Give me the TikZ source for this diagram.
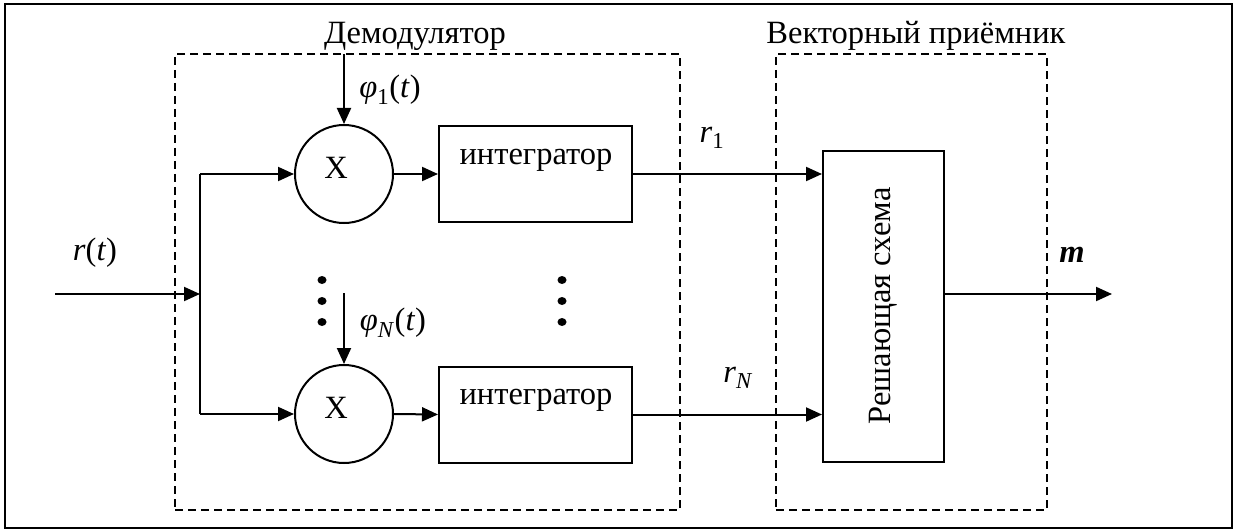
\documentclass[tikz,border=0pt]{standalone}
\usepackage{fontspec}
\setmainfont{Liberation Serif}
\usetikzlibrary{arrows.meta,shapes.geometric}
\begin{document}
\begin{tikzpicture}[x=1pt,y=-1pt,
  line width=2pt,
  font=\fontsize{32.5}{38}\selectfont,
  arr/.style={-{Triangle[length=16pt,width=14pt]}},
  blk/.style={draw,rectangle,minimum width=193pt,minimum height=96pt,inner sep=0pt},
  mult/.style={draw,circle,minimum size=98pt,inner sep=0pt},
  grp/.style={draw,line width=1.6pt,dash pattern=on 8pt off 5pt},
  lbl/.style={inner sep=0pt},
  dot/.style={fill,ellipse,minimum width=9pt,minimum height=8pt,inner sep=0pt}]
\useasboundingbox (0,0) rectangle (1236,532);
\node[draw,line width=1.6pt,minimum width=1227pt,minimum height=524pt,inner sep=0pt] (frame) at (618.5,266) {};
% groups
\node[grp,minimum width=505pt,minimum height=456pt,inner sep=0pt] (demod) at (427.5,282) {};
\node[grp,minimum width=271pt,minimum height=456pt,inner sep=0pt] (vrec) at (911.5,282) {};
\node[lbl] (demodlbl) at (415,36) {Демодулятор};
\node[lbl] (vreclbl) at (916,36) {Векторный приёмник};
% blocks
\node[mult] (m1) at (344,174) {};
\node[mult] (m2) at (344,414) {};
\node[lbl] (x1) at (336,168) {X};
\node[lbl] (x2) at (336,408) {X};
\node[blk] (i1) at (535.5,174) {};
\node[blk] (i2) at (535.5,414.5) {};
\node[lbl] (i1t) at (536,160) {интегратор};
\node[lbl] (i2t) at (536,400) {интегратор};
\node[draw,rectangle,minimum width=121pt,minimum height=311pt,inner sep=0pt] (dec) at (883.5,306.5) {};
\node[lbl,rotate=90] (dectxt) at (883,306) {Решающая схема};
% coordinates
\coordinate (in) at (55,294);
\coordinate (split) at (200,294);
\coordinate (st) at (200,174);
\coordinate (sb) at (200,414);
\coordinate (p1) at (344,54);
\coordinate (p2) at (344,293);
\coordinate (out) at (1112,294);
% connectors
\draw[arr] (in) -- (split);
\draw (st) -- (sb);
\draw[arr] (st) -- (m1.west);
\draw[arr] (sb) -- (m2.west);
\draw[arr] (p1) -- (m1.north);
\draw[arr] (p2) -- (m2.north);
\draw[arr] (m1.east) -- (i1.west);
\draw[arr] (m2.east) -- (i2.west);
\draw[arr] (i1.east) -- (i1.east -| dec.west);
\draw[arr] (i2.east) -- (i2.east -| dec.west);
\draw[arr] (dec.east |- out) -- (out);
% labels
\node[lbl] (rt) at (95,253) {\textit{r}(\textit{t})};
\node[lbl] (phi1) at (390,90) {\textit{φ}\textsubscript{1}(\textit{t})};
\node[lbl] (phiN) at (393,323) {\textit{φ}\textsubscript{\textit{N}}(\textit{t})};
\node[lbl] (r1) at (712,138) {\textit{r}\textsubscript{1}};
\node[lbl] (rN) at (738,378) {\textit{r}\textsubscript{\textit{N}}};
\node[lbl] (m) at (1072,255) {\textbf{\textit{m}}};
% dots
\foreach \yy [count=\k] in {280,301,322} {
  \node[dot] (dl\k) at (322,\yy) {};
  \node[dot] (dr\k) at (562,\yy) {};
}
\end{tikzpicture}
\end{document}
